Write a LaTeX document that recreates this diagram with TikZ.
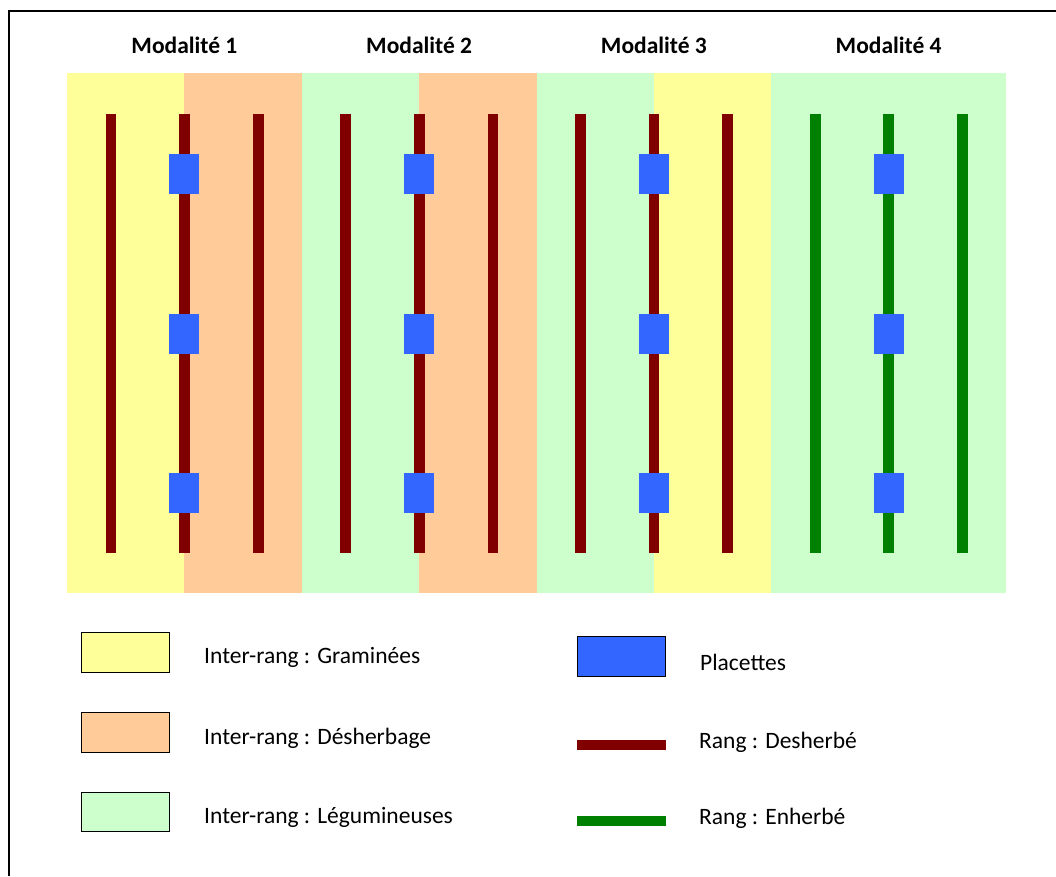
\documentclass[tikz,border=0pt]{standalone}
\usepackage{fontspec}
\setmainfont{Carlito}
\definecolor{grass}{HTML}{FFFF99}
\definecolor{weed}{HTML}{FFCC99}
\definecolor{legume}{HTML}{CCFFCC}
\definecolor{rowred}{HTML}{800000}
\definecolor{rowgreen}{HTML}{008000}
\definecolor{plot}{HTML}{3366FF}
\tikzset{
    txt/.style={font=\fontsize{23.5}{28}\selectfont, inner sep=0pt},
    title/.style={txt, font=\fontsize{23.5}{28}\selectfont\bfseries},
    keybox/.style={draw=black, line width=1.5pt},
    rang/.style={line width=10.7pt}
}
\begin{document}
\begin{tikzpicture}[x=1pt,y=-1pt]
    \useasboundingbox (0,0) rectangle (1056,876);
    \draw[line width=2pt] (8.5,876) -- (8.5,10.5) -- (1056,10.5);

    % the four modalities
    \foreach \m/\ca/\cb/\rc in {1/grass/weed/rowred, 2/legume/weed/rowred,
                                3/legume/grass/rowred, 4/legume/legume/rowgreen} {
        \pgfmathsetmacro{\xo}{67+234.75*(\m-1)}
        \fill[\ca] (\xo,73) rectangle (\xo+117.375,593);
        \fill[\cb] (\xo+117.375,73) rectangle (\xo+234.75,593);
        \draw[rang, \rc] (\xo+44,114) -- (\xo+44,553);
        \draw[rang, \rc] (\xo+117.4,114) -- (\xo+117.4,553);
        \draw[rang, \rc] (\xo+191.2,114) -- (\xo+191.2,553);
        \foreach \y in {174,334,493}
            \fill[plot] (\xo+102.4,\y-20) rectangle (\xo+132.4,\y+20);
        \node[title] (mod\m) at (\xo+117.4,45) {Modalité \m};
    }

    % legend
    \filldraw[keybox, fill=grass] (81.5,632.5) rectangle (169.5,672.5);
    \node[txt, anchor=west] (graminees) at (204,657) {Inter-rang : Graminées};
    \filldraw[keybox, fill=weed] (81.5,712.5) rectangle (169.5,752.5);
    \node[txt, anchor=west] (desherbage) at (204,738) {Inter-rang : Désherbage};
    \filldraw[keybox, fill=legume] (81.5,792.5) rectangle (169.5,831.5);
    \node[txt, anchor=west] (legumineuses) at (204,817) {Inter-rang : Légumineuses};

    \filldraw[keybox, fill=plot] (577.5,636.5) rectangle (665.5,676.5);
    \node[txt, anchor=west] (placettes) at (700,662) {Placettes};
    \draw[rang, rowred] (577,745) -- (666,745);
    \node[txt, anchor=west] (desherbe) at (699,742) {Rang : Desherbé};
    \draw[rang, rowgreen] (577,821) -- (666,821);
    \node[txt, anchor=west] (enherbe) at (699,818) {Rang : Enherbé};
\end{tikzpicture}
\end{document}
